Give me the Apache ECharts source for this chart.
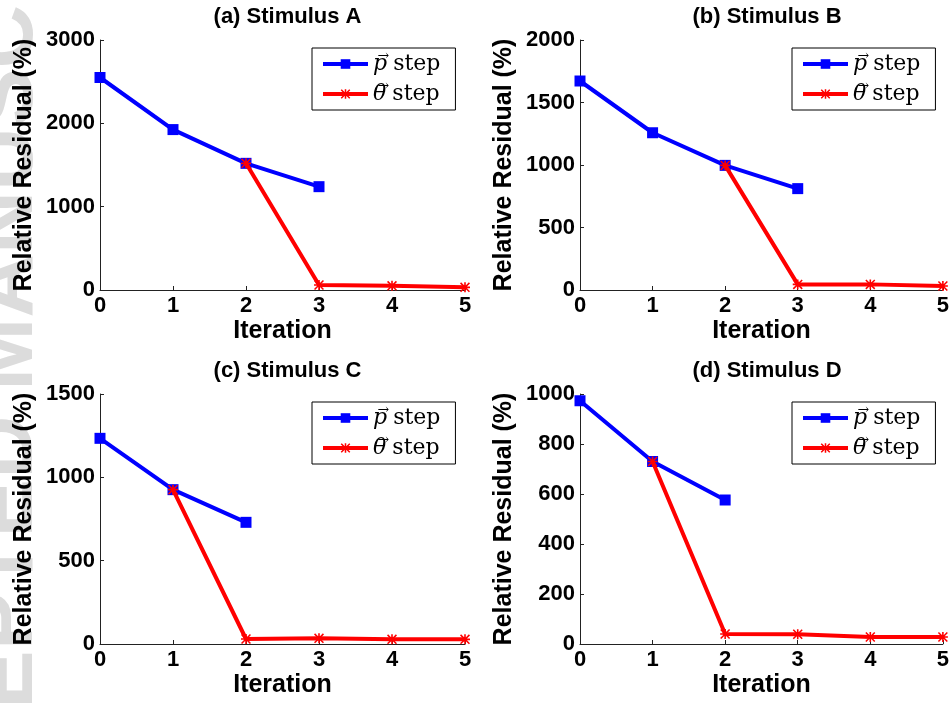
<!DOCTYPE html>
<html>
<head>
<meta charset="utf-8">
<script src="https://cdn.jsdelivr.net/npm/echarts@6/dist/echarts.min.js"></script>
<style>html,body{margin:0;padding:0;background:#fff;}#c{width:952px;height:704px;}</style>
</head>
<body>
<div id="c"></div>
<script>
// ---- data ----
var titles = ['(a) Stimulus A', '(b) Stimulus B', '(c) Stimulus C', '(d) Stimulus D'];
var xTicks = [0, 1, 2, 3, 4, 5];
var yMax = [3000, 2000, 1500, 1000];
var yStep = [1000, 500, 500, 200];
// [iteration, residual]
var pStepA = [[0, 2550], [1, 1925], [2, 1520], [3, 1240]];
var thStepA = [[2, 1520], [3, 60], [4, 50], [5, 32]];
var pStepB = [[0, 1672], [1, 1258], [2, 997], [3, 811]];
var thStepB = [[2, 997], [3, 45], [4, 45], [5, 32]];
var pStepC = [[0, 1234], [1, 926], [2, 730]];
var thStepC = [[1, 926], [2, 30], [3, 34], [4, 28], [5, 28]];
var pStepD = [[0, 973], [1, 730], [2, 576]];
var thStepD = [[1, 730], [2, 40], [3, 39], [4, 28], [5, 28]];
var pSeries = [pStepA, pStepB, pStepC, pStepD];
var thSeries = [thStepA, thStepB, thStepC, thStepD];
var legendNames = ['p step', 'theta step'];

// ---- layout ----
var boxes = [
  {left: 100, top: 40, width: 365, height: 250},
  {left: 580, top: 40, width: 364, height: 250},
  {left: 100, top: 394, width: 365, height: 250},
  {left: 580, top: 394, width: 364, height: 250}
];
var sans = 'Liberation Sans, Arial, Helvetica, sans-serif';
var serif = 'DejaVu Serif, serif';
var star = 'path://M0,4.2H10V5.8H0Z M4.2,0H5.8V10H4.2Z M1.1,0L10,8.9L8.9,10L0,1.1Z M8.9,0L10,1.1L1.1,10L0,8.9Z';

var option = {
  animation: false,
  backgroundColor: '#fff',
  title: [], grid: [], xAxis: [], yAxis: [], legend: [], series: [],
  graphic: [{
    type: 'text', z: -10, x: 52, y: 352, rotation: Math.PI / 2,
    style: {text: 'ACCEPTED MANUSCRIPT', fontSize: 88, fontWeight: 'bold', fontFamily: sans,
            fill: '#dcdcdc', textAlign: 'center', textVerticalAlign: 'bottom'}
  }]
};

function plain(v) { return String(v); }

for (var i = 0; i < 4; i++) {
  var b = boxes[i];
  option.grid.push({left: b.left, top: b.top, width: b.width, height: b.height, containLabel: false});
  option.title.push({
    text: titles[i], left: b.left + b.width / 2, top: b.top - 39, textAlign: 'center',
    textStyle: {fontFamily: sans, fontWeight: 'bold', fontSize: 22, color: '#000'}
  });
  option.xAxis.push({
    type: 'value', gridIndex: i, min: xTicks[0], max: xTicks[xTicks.length - 1], interval: 1,
    name: 'Iteration', nameLocation: 'middle', nameGap: 29,
    nameTextStyle: {fontFamily: sans, fontWeight: 'bold', fontSize: 25, color: '#000'},
    axisLine: {show: true, onZero: false, lineStyle: {color: '#222', width: 1}},
    axisTick: {show: true, inside: true, length: 4, lineStyle: {color: '#222'}},
    axisLabel: {fontFamily: sans, fontWeight: 'bold', fontSize: 22, color: '#000', margin: 5, formatter: plain},
    splitLine: {show: false}
  });
  option.yAxis.push({
    type: 'value', gridIndex: i, min: 0, max: yMax[i], interval: yStep[i],
    name: 'Relative Residual (%)', nameLocation: 'middle', nameGap: 63,
    nameTextStyle: {fontFamily: sans, fontWeight: 'bold', fontSize: 25, color: '#000'},
    axisLine: {show: true, lineStyle: {color: '#222', width: 1}},
    axisTick: {show: true, inside: true, length: 4, lineStyle: {color: '#222'}},
    axisLabel: {fontFamily: sans, fontWeight: 'bold', fontSize: 22, color: '#000', margin: 5, formatter: plain},
    splitLine: {show: false}
  });
  option.legend.push({
    left: b.left + 212, top: b.top + 8, orient: 'vertical',
    backgroundColor: '#fff', borderColor: '#000', borderWidth: 1,
    padding: [1, 15, 1, 9], itemGap: 0, itemWidth: 45, itemHeight: 12,
    lineStyle: {width: 4},
    data: legendNames,
    formatter: function (name) {
      return name === 'p step' ? '{a| \u2192}{i|p} {s|step}' : '{b| \u2192}{i|\u03B8} {s|step}';
    },
    textStyle: {
      color: '#000', fontSize: 22, lineHeight: 30,
      rich: {
        a: {fontFamily: serif, fontSize: 14, width: 0, lineHeight: 10, verticalAlign: 'top', color: '#000'},
        b: {fontFamily: serif, fontSize: 14, width: 0, lineHeight: 1, verticalAlign: 'top', color: '#000'},
        i: {fontFamily: serif, fontStyle: 'italic', fontSize: 22, lineHeight: 30, verticalAlign: 'middle', color: '#000'},
        s: {fontFamily: serif, fontSize: 22, lineHeight: 30, verticalAlign: 'middle', color: '#000'}
      }
    }
  });
  option.series.push({
    name: 'p step', type: 'line', xAxisIndex: i, yAxisIndex: i, data: pSeries[i],
    symbol: 'rect', symbolSize: 11, lineStyle: {color: '#0000ff', width: 4},
    itemStyle: {color: '#0000ff'}, z: 2
  });
  option.series.push({
    name: 'theta step', type: 'line', xAxisIndex: i, yAxisIndex: i, data: thSeries[i],
    symbol: star, symbolSize: 10, lineStyle: {color: '#ff0000', width: 4},
    itemStyle: {color: '#ff0000'}, z: 3
  });
}
var chart = echarts.init(document.getElementById('c'), null, {renderer: 'canvas'});
chart.setOption(option);
</script>
</body>
</html>
